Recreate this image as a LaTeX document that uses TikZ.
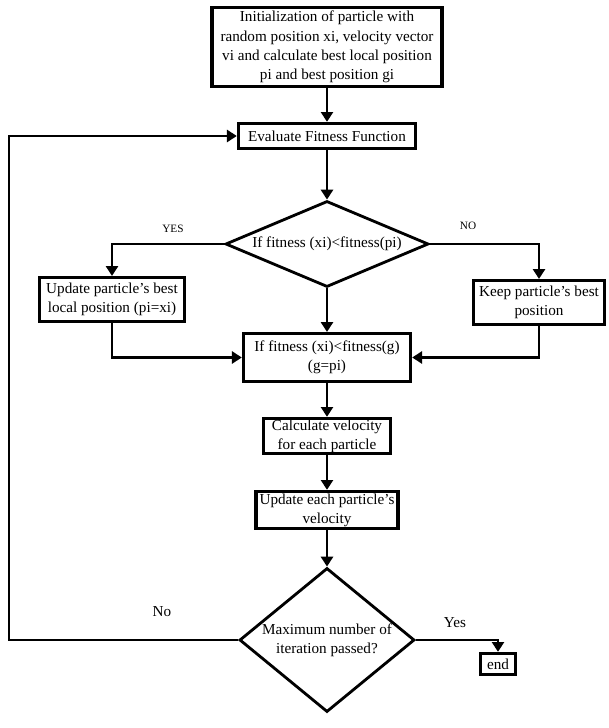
\documentclass[tikz,border=0pt]{standalone}
\usepackage{fontspec}
\setmainfont{Liberation Serif}
\usetikzlibrary{shapes.geometric,arrows.meta}

\begin{document}
\begin{tikzpicture}[x=0.025cm,y=-0.025cm,
    box/.style={draw,line width=2.2pt,align=center,inner sep=0pt,font=\fontsize{10.8}{13.7}\selectfont},
    decision/.style={draw,diamond,line width=2pt,align=center,inner sep=0pt,font=\fontsize{10.8}{13.7}\selectfont},
    arr/.style={line width=2pt,-{Triangle[length=7pt,width=8.5pt]}},
    lbl/.style={font=\fontsize{10.8}{12}\selectfont}]
    \useasboundingbox (0,0) rectangle (608,728);
    % boxes and decisions
    \node[box,minimum width=5.75cm,minimum height=1.98cm] (init) at (327,47) {Initialization of particle with\\random position xi, velocity vector\\vi and calculate best local position\\pi and best position gi};
    \node[box,minimum width=4.43cm,minimum height=0.63cm] (eval) at (327,136) {Evaluate Fitness Function};
    \node[decision,aspect=2.4,minimum width=5.075cm,minimum height=2.15cm] (pbest) at (327,244) {If fitness (xi)<fitness(pi)};
    \node[box,minimum width=3.63cm,minimum height=1.1cm] (upd) at (112,299.5) {Update particle's best\\local position (pi=xi)};
    \node[box,minimum width=3.28cm,minimum height=1.1cm] (keep) at (539,302.5) {Keep particle's best\\position};
    \node[box,minimum width=4.18cm,minimum height=1.2cm] (gbest) at (327,357.5) {If fitness (xi)<fitness(g)\\(g=pi)};
    \node[box,minimum width=3.18cm,minimum height=0.88cm] (vel) at (327,436) {Calculate velocity\\for each particle};
    \node[box,minimum width=3.55cm,minimum height=0.93cm] (upv) at (327,510) {Update each particle's\\velocity};
    \node[decision,aspect=1.2,minimum width=4.375cm,minimum height=3.6cm] (maxit) at (327,640) {Maximum number of\\iteration passed?};
    \node[box,minimum width=0.88cm,minimum height=0.53cm] (end) at (498,664) {end};
    \coordinate (back) at (9,400);
    % connectors
    \draw[arr] (init) -- (eval);
    \draw[arr] (eval) -- (pbest);
    \draw[arr] (pbest.west) -| (upd.north);
    \draw[arr] (pbest.east) -| (keep.north);
    \draw[arr] (pbest.south) -- (gbest.north);
    \draw[arr] (upd.south) |- (gbest.west);
    \draw[arr] (keep.south) |- (gbest.east);
    \draw[arr] (gbest) -- (vel);
    \draw[arr] (vel) -- (upv);
    \draw[arr] (upv) -- (maxit.north);
    \draw[arr] (maxit.east) -| (end.north);
    \draw[arr] (maxit.west) -| (back) |- (eval.west);
    % branch labels
    \node[font=\fontsize{8}{9}\selectfont] (yes1) at (173,229) {YES};
    \node[font=\fontsize{8}{9}\selectfont] (no1) at (468,226) {NO};
    \node[lbl] (no2) at (162,612) {No};
    \node[lbl] (yes2) at (455,623) {Yes};
\end{tikzpicture}
\end{document}
